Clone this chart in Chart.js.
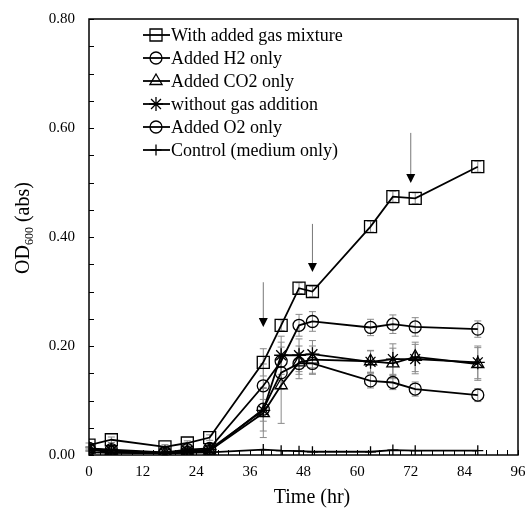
<!DOCTYPE html>
<html>
<head>
<meta charset="utf-8">
<script src="https://cdn.jsdelivr.net/npm/chart.js@4"></script>
<style>
  html, body { margin: 0; padding: 0; background: #fff; }
  #wrap { width: 529px; height: 509px; }
</style>
</head>
<body>
<div id="wrap"><canvas id="odChart" width="529" height="509"></canvas></div>
<script>
// Sampling times (hr)
const hours = [0, 5, 17, 22, 27, 39, 43, 47, 50, 63, 68, 73, 87];

// OD600 readings per culture condition
const mixture = [0.018, 0.028, 0.015, 0.022, 0.032, 0.170, 0.238, 0.306, 0.300, 0.419, 0.474, 0.471, 0.529];
const h2Only = [0.012, 0.010, 0.005, 0.010, 0.012, 0.127, 0.172, 0.238, 0.245, 0.234, 0.240, 0.235, 0.231];
const co2Only = [0.010, 0.008, 0.003, 0.006, 0.008, 0.077, 0.128, 0.170, 0.175, 0.172, 0.168, 0.180, 0.167];
const noGas = [0.012, 0.008, 0.004, 0.008, 0.010, 0.082, 0.183, 0.183, 0.185, 0.171, 0.176, 0.176, 0.170];
const o2Only = [0.010, 0.005, 0.003, 0.005, 0.008, 0.084, 0.151, 0.168, 0.168, 0.136, 0.133, 0.121, 0.110];
const control = [0.005, 0.004, 0.003, 0.004, 0.005, 0.010, 0.008, 0.007, 0.006, 0.006, 0.009, 0.008, 0.008];

// standard deviations
const mixtureErr = [0.004, 0.005, 0.004, 0.004, 0.005, 0.025, 0.010, 0.010, 0.010, 0.010, 0.010, 0.010, 0.010];
const h2Err = [0.003, 0.003, 0.003, 0.003, 0.004, 0.040, 0.035, 0.020, 0.018, 0.015, 0.017, 0.017, 0.015];
const co2Err = [0.003, 0.003, 0.003, 0.003, 0.004, 0.045, 0.070, 0.030, 0.025, 0.020, 0.028, 0.027, 0.030];
const noGasErr = [0.003, 0.003, 0.003, 0.003, 0.004, 0.020, 0.035, 0.030, 0.025, 0.020, 0.028, 0.027, 0.030];
const o2Err = [0.003, 0.003, 0.003, 0.003, 0.004, 0.040, 0.030, 0.020, 0.020, 0.013, 0.013, 0.013, 0.012];
const controlErr = [0, 0, 0, 0, 0, 0, 0, 0, 0, 0, 0, 0, 0];

// gas feeding events (arrow x, arrow top, arrow tip)
const arrowHours = [39, 50, 72];
const arrowTop = [0.317, 0.424, 0.591];
const arrowTip = [0.235, 0.336, 0.499];

// axis ticks
const xTicks = [0, 12, 24, 36, 48, 60, 72, 84, 96];
const yTicks = [0, 0.2, 0.4, 0.6, 0.8];

const FONT = "'Liberation Serif', 'Times New Roman', serif";

function series(label, values, errs, style, radius) {
    return {
        label: label,
        data: hours.map((t, i) => ({ x: t, y: values[i] })),
        errs: errs,
        borderColor: '#000',
        borderWidth: 1.8,
        pointStyle: style,
        pointRadius: radius,
        pointHoverRadius: radius,
        pointBorderColor: '#000',
        pointBorderWidth: 1.3,
        pointBackgroundColor: 'rgba(0,0,0,0)',
        tension: 0,
        fill: false
    };
}

const datasets = [
    series('With added gas mixture', mixture, mixtureErr, 'rect', 8.5),
    series('Added H2 only', h2Only, h2Err, 'circle', 6),
    series('Added CO2 only', co2Only, co2Err, 'triangle', 7),
    series('without gas addition', noGas, noGasErr, 'star', 7),
    series('Added O2 only', o2Only, o2Err, 'circle', 6),
    series('Control (medium only)', control, controlErr, 'cross', 5.5)
];

// keep the plot box fixed, no extra room for label overhang
function fixScale(s, key, size) {
    s[key] = size;
    s.paddingTop = 0;
    s.paddingBottom = 0;
    s.paddingLeft = 0;
    s.paddingRight = 0;
}

// error bars, frame, inner ticks, arrows, legend and axis titles
const decor = {
    id: 'decor',
    beforeDatasetsDraw(chart) {
        const ctx = chart.ctx;
        const xs = chart.scales.x, ys = chart.scales.y;
        ctx.save();
        ctx.strokeStyle = '#8a8a8a';
        ctx.lineWidth = 1;
        chart.data.datasets.forEach(ds => {
            ds.data.forEach((p, i) => {
                const e = ds.errs[i];
                if (!e) return;
                const x = xs.getPixelForValue(p.x);
                const y1 = ys.getPixelForValue(p.y - e);
                const y2 = ys.getPixelForValue(p.y + e);
                ctx.beginPath();
                ctx.moveTo(x, y1); ctx.lineTo(x, y2);
                ctx.moveTo(x - 3.5, y1); ctx.lineTo(x + 3.5, y1);
                ctx.moveTo(x - 3.5, y2); ctx.lineTo(x + 3.5, y2);
                ctx.stroke();
            });
        });
        ctx.restore();
    },
    afterDraw(chart) {
        const ctx = chart.ctx;
        const a = chart.chartArea;
        const xs = chart.scales.x, ys = chart.scales.y;
        ctx.save();

        // frame
        ctx.strokeStyle = '#000';
        ctx.lineWidth = 1.5;
        ctx.strokeRect(a.left, a.top, a.right - a.left, a.bottom - a.top);

        // inward ticks
        ctx.lineWidth = 1;
        ctx.beginPath();
        for (let v = 0; v <= 96.001; v += 2.4) {
            const x = Math.round(xs.getPixelForValue(v)) + 0.5;
            ctx.moveTo(x, a.bottom); ctx.lineTo(x, a.bottom - 5);
        }
        for (let v = 0; v <= 0.8001; v += 0.05) {
            const y = Math.round(ys.getPixelForValue(v)) + 0.5;
            ctx.moveTo(a.left, y); ctx.lineTo(a.left + 5, y);
        }
        ctx.stroke();

        // arrows
        arrowHours.forEach((t, i) => {
            const x = xs.getPixelForValue(t);
            const yTop = ys.getPixelForValue(arrowTop[i]);
            const yTip = ys.getPixelForValue(arrowTip[i]);
            ctx.strokeStyle = '#777';
            ctx.lineWidth = 1;
            ctx.beginPath();
            ctx.moveTo(x, yTop); ctx.lineTo(x, yTip - 8);
            ctx.stroke();
            ctx.fillStyle = '#000';
            ctx.beginPath();
            ctx.moveTo(x - 4.5, yTip - 9);
            ctx.lineTo(x + 4.5, yTip - 9);
            ctx.lineTo(x, yTip);
            ctx.closePath();
            ctx.fill();
        });

        // legend
        ctx.font = '18px ' + FONT;
        ctx.textBaseline = 'middle';
        ctx.textAlign = 'left';
        chart.data.datasets.forEach((ds, i) => {
            const y = 35 + i * 23;
            ctx.strokeStyle = '#000';
            ctx.lineWidth = 1.8;
            ctx.beginPath();
            ctx.moveTo(143, y); ctx.lineTo(170, y);
            ctx.stroke();
            ctx.lineWidth = 1.3;
            ctx.fillStyle = 'rgba(0,0,0,0)';
            Chart.helpers.drawPoint(ctx, {
                pointStyle: ds.pointStyle,
                radius: ds.pointRadius,
                rotation: 0,
                borderWidth: 1.3
            }, 156, y);
            ctx.fillStyle = '#000';
            ctx.fillText(ds.label, 171, y + 1);
        });

        // axis titles
        ctx.fillStyle = '#000';
        ctx.font = '20px ' + FONT;
        ctx.textAlign = 'center';
        ctx.textBaseline = 'alphabetic';
        ctx.fillText('Time (hr)', 312, 503);

        ctx.translate(29, 228);
        ctx.rotate(-Math.PI / 2);
        const main = 'OD', sub = '600', tail = ' (abs)';
        ctx.font = '20px ' + FONT;
        const w1 = ctx.measureText(main).width;
        const w3 = ctx.measureText(tail).width;
        ctx.font = '12px ' + FONT;
        const w2 = ctx.measureText(sub).width;
        const x0 = -(w1 + w2 + w3) / 2;
        ctx.textAlign = 'left';
        ctx.font = '20px ' + FONT;
        ctx.fillText(main, x0, 0);
        ctx.font = '12px ' + FONT;
        ctx.fillText(sub, x0 + w1, 4);
        ctx.font = '20px ' + FONT;
        ctx.fillText(tail, x0 + w1 + w2, 0);
        ctx.restore();
    }
};

const odCtx = document.getElementById('odChart').getContext('2d');
const odChart = new Chart(odCtx, {
    type: 'line',
    data: { datasets: datasets },
    options: {
        responsive: false,
        animation: false,
        layout: { padding: { top: 19, right: 11, left: 0, bottom: 0 } },
        plugins: {
            legend: { display: false },
            tooltip: { enabled: false }
        },
        scales: {
            x: {
                type: 'linear',
                min: 0,
                max: 96,
                afterFit: s => fixScale(s, 'height', 54),
                afterBuildTicks: s => { s.ticks = xTicks.map(v => ({ value: v })); },
                grid: { display: false, drawTicks: false },
                border: { display: false },
                ticks: {
                    padding: 8,
                    color: '#000',
                    font: { family: FONT, size: 15 },
                    maxRotation: 0,
                    callback: v => String(v)
                }
            },
            y: {
                type: 'linear',
                min: 0,
                max: 0.8,
                afterFit: s => fixScale(s, 'width', 89),
                afterBuildTicks: s => { s.ticks = yTicks.map(v => ({ value: v })); },
                grid: { display: false, drawTicks: false },
                border: { display: false },
                ticks: {
                    padding: 14,
                    color: '#000',
                    font: { family: FONT, size: 15 },
                    callback: v => Number(v).toFixed(2)
                }
            }
        }
    },
    plugins: [decor]
});
</script>
</body>
</html>
